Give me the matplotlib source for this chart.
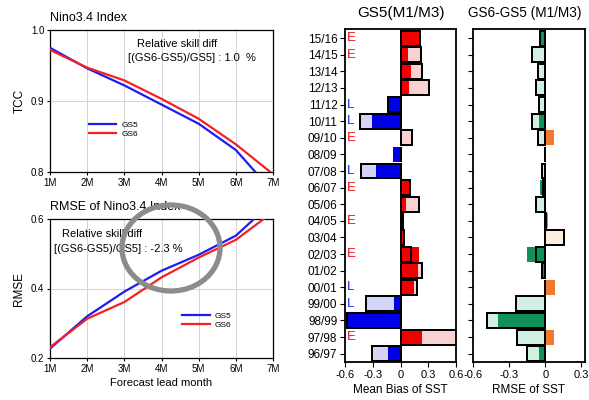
import numpy as np
import matplotlib
matplotlib.use("Agg")
import matplotlib.pyplot as plt
from matplotlib.patches import Ellipse

plt.rcParams['font.family'] = ['Liberation Sans', 'DejaVu Sans']

# ---- Nino3.4 skill by forecast lead ----
lead_months = [1, 2, 3, 4, 5, 6, 7]
lead_labels = ['1M', '2M', '3M', '4M', '5M', '6M', '7M']
tcc_gs5 = [0.975, 0.946, 0.922, 0.895, 0.868, 0.831, 0.772]
tcc_gs6 = [0.972, 0.947, 0.929, 0.903, 0.875, 0.839, 0.797]
rmse_gs5 = [0.227, 0.320, 0.391, 0.451, 0.497, 0.552, 0.650]
rmse_gs6 = [0.231, 0.313, 0.361, 0.432, 0.489, 0.540, 0.620]

# ---- seasonal mean bias / RMSE change of SST ----
seasons = ['96/97', '97/98', '98/99', '99/00', '00/01', '01/02', '02/03',
           '03/04', '04/05', '05/06', '06/07', '07/08', '08/09', '09/10',
           '10/11', '11/12', '12/13', '13/14', '14/15', '15/16']
enso_type = ['', 'E', 'L', 'L', 'L', '', 'E', '', 'E', '', 'E', 'L', '',
             'E', 'L', 'L', '', '', 'E', 'E']
gs5_bias_m1 = [-0.14, 0.23, -0.58, -0.07, 0.15, 0.19, 0.20, 0.05, 0.04, 0.06,
               0.11, -0.27, -0.08, 0.00, -0.31, -0.13, 0.09, 0.11, 0.08, 0.21]
gs5_bias_m3 = [-0.31, 0.65, -0.58, -0.37, 0.18, 0.23, 0.11, 0.04, 0.03, 0.20,
               0.10, -0.43, 0.00, 0.12, -0.44, -0.13, 0.31, 0.23, 0.22, 0.21]
rmse_diff_m1 = [-0.05, 0.07, -0.39, -0.01, 0.08, -0.035, -0.155, 0.005, 0.025,
                -0.01, -0.04, -0.01, 0.005, 0.07, -0.05, -0.01, -0.01, -0.01,
                -0.01, -0.05]
rmse_diff_m3 = [-0.15, -0.235, -0.48, -0.24, 0.0, -0.03, -0.08, 0.155, 0.01,
                -0.08, -0.02, -0.03, -0.005, -0.06, -0.11, -0.055, -0.075,
                -0.06, -0.11, -0.045]

W, H = 589, 400
fig = plt.figure(figsize=(W / 100, H / 100), dpi=100)


def px_axes(left, top, right, bottom):
    return fig.add_axes([left / W, 1 - bottom / H, (right - left) / W, (bottom - top) / H])


BLUE = '#1c1cf5'
RED = '#f52020'


def skill_panel(ax, y5, y6, ylim, yticks, ylabel, title):
    ax.plot(lead_months, y5, color=BLUE, lw=1.6, label='GS5', zorder=3)
    ax.plot(lead_months, y6, color=RED, lw=1.6, label='GS6', zorder=3)
    ax.set_xlim(1, 7)
    ax.set_ylim(*ylim)
    ax.set_xticks(lead_months)
    ax.set_xticklabels(lead_labels)
    ax.set_yticks(yticks)
    ax.set_yticklabels(['%.1f' % v for v in yticks])
    ax.grid(True, color='#d4d4d4', lw=0.7, zorder=0)
    ax.tick_params(labelsize=7, length=2, width=0.8, pad=2)
    for s in ax.spines.values():
        s.set_linewidth(0.9)
    ax.set_ylabel(ylabel, fontsize=8.5, labelpad=4)
    ax.text(0.0, 1.04, title, transform=ax.transAxes, fontsize=9,
            ha='left', va='bottom')


# top-left: TCC
ax1 = px_axes(50, 30, 273, 172)
skill_panel(ax1, tcc_gs5, tcc_gs6, (0.8, 1.0), [0.8, 0.9, 1.0], 'TCC', 'Nino3.4 Index')
ax1.text(0.39, 0.90, 'Relative skill diff', transform=ax1.transAxes,
         fontsize=8, ha='left', va='center')
ax1.text(0.35, 0.80, '[(GS6-GS5)/GS5] : 1.0  %', transform=ax1.transAxes,
         fontsize=8, ha='left', va='center')
ax1.legend(loc='center left', bbox_to_anchor=(0.14, 0.30), frameon=False,
           fontsize=6, handlelength=3.3, labelspacing=0.2, handletextpad=0.6)

# bottom-left: RMSE
ax2 = px_axes(50, 219, 273, 358)
skill_panel(ax2, rmse_gs5, rmse_gs6, (0.2, 0.6), [0.2, 0.4, 0.6], 'RMSE',
            'RMSE of Nino3.4 Index')
ax2.text(0.055, 0.895, 'Relative skill diff', transform=ax2.transAxes,
         fontsize=8, ha='left', va='center')
ax2.text(0.02, 0.785, '[(GS6-GS5)/GS5] : -2.3 %', transform=ax2.transAxes,
         fontsize=8, ha='left', va='center')
ax2.legend(loc='center left', bbox_to_anchor=(0.56, 0.27), frameon=False,
           fontsize=6, handlelength=3.3, labelspacing=0.2, handletextpad=0.6)
ax2.set_xlabel('Forecast lead month', fontsize=8, labelpad=3)

# highlight ring drawn on top of the RMSE panel
ring = Ellipse((171 / W, 1 - 248 / H), 98 / W, 86 / H, transform=fig.transFigure,
               fill=False, edgecolor='#8c8c8c', lw=3.8, zorder=10)
fig.add_artist(ring)


def bar_panel(ax, m1, m3, pos_dark, pos_light, neg_dark, neg_light, xlim, xticks):
    y = np.arange(len(seasons))
    m1 = np.asarray(m1)
    m3 = np.asarray(m3)
    light_c = [pos_light if v >= 0 else neg_light for v in m3]
    dark_c = [pos_dark if v >= 0 else neg_dark for v in m1]
    ax.barh(y, m3, height=0.9, color=light_c, edgecolor='black', lw=1.4, zorder=2)
    ax.barh(y, m1, height=0.9, color=dark_c, edgecolor='none', zorder=3)
    ax.barh(y, m3, height=0.9, fill=False, edgecolor='black', lw=1.4, zorder=4)
    ax.set_xlim(*xlim)
    ax.set_ylim(-0.5, len(seasons) - 0.45)
    ax.set_yticks(y)
    ax.set_xticks(xticks)
    ax.set_xticklabels(['0' if v == 0 else '%.1f' % v for v in xticks])
    ax.tick_params(axis='both', labelsize=8, length=3.5, width=0.8, pad=2)
    for s in ax.spines.values():
        s.set_linewidth(1.3)
        s.set_zorder(6)


def panel_title(ax, text, x, size):
    ax.annotate(text, xy=(x, 1.0), xycoords='axes fraction',
                xytext=(0, 9), textcoords='offset points', fontsize=size,
                ha='center', va='baseline')


# middle: GS5 mean bias
ax3 = px_axes(345, 29, 456, 362)
bar_panel(ax3, gs5_bias_m1, gs5_bias_m3, '#f20000', '#f8d2d2', '#0000e8',
          '#d4d4f6', (-0.6, 0.6), [-0.6, -0.3, 0, 0.3, 0.6])
ax3.set_yticklabels(seasons, fontsize=8.5)
panel_title(ax3, 'GS5(M1/M3)', 0.5, 11)
ax3.set_xlabel('Mean Bias of SST', fontsize=8.5, labelpad=3)
for i, t in enumerate(enso_type):
    if t:
        ax3.text(-0.585, i, t, fontsize=9.5, ha='left', va='center', zorder=1,
                 color='#e8101c' if t == 'E' else '#1a2ae0')

# right: GS6 - GS5 RMSE change
ax4 = px_axes(473, 29, 585, 362)
bar_panel(ax4, rmse_diff_m1, rmse_diff_m3, '#f07a30', '#fdeedc', '#11915a',
          '#d2f0e2', (-0.6, 0.33), [-0.6, -0.3, 0, 0.3])
ax4.set_yticklabels([])
panel_title(ax4, 'GS6-GS5 (M1/M3)', 0.46, 9.8)
ax4.set_xlabel('RMSE of SST', fontsize=8.5, labelpad=3)

fig.savefig('out.png', dpi=100)
